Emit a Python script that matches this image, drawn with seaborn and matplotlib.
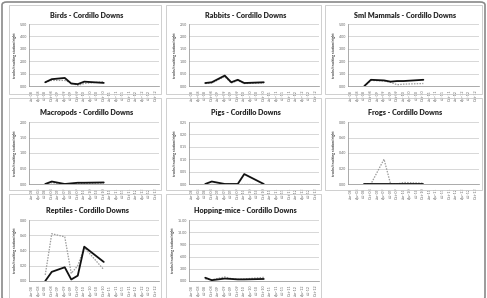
import numpy as np
import pandas as pd
import matplotlib
matplotlib.use("Agg")
import matplotlib.pyplot as plt
import seaborn as sns
from matplotlib.patches import Rectangle, FancyBboxPatch

sns.set_style("white")
plt.rcParams['font.family'] = ['Lato', 'DejaVu Sans']

# quarterly tick labels Jan-08 .. Oct-12
quarters = [f"{m}-{y:02d}" for y in range(8, 13) for m in ["Jan", "Apr", "Jul", "Oct"]]

# survey positions (index into quarters)
survey_idx = [2, 3, 5, 6, 7, 8, 11]

titles = ["Birds", "Rabbits", "Sml Mammals", "Macropods", "Pigs", "Frogs",
          "Reptiles", "Hopping-mice"]

# solid (black) series
birds_a = [0.30, 0.55, 0.65, 0.20, 0.15, 0.35, 0.25]
rabbits_a = [0.12, 0.15, 0.42, 0.15, 0.25, 0.12, 0.15]
smlmam_a = [0.00, 0.50, 0.45, 0.35, 0.40, 0.40, 0.50]
macro_a = [0.00, 0.08, 0.00, 0.02, 0.04, 0.04, 0.05]
pigs_a = [0.00, 0.01, 0.00, 0.00, 0.00, 0.04, 0.00]
frogs_a = [0.00, 0.00, 0.00, 0.00, 0.00, 0.00, 0.00]
rept_a = [0.00, 0.12, 0.18, 0.02, 0.07, 0.45, 0.25]
hop_a = [0.80, 0.20, 0.60, 0.50, 0.40, 0.40, 0.50]

# dotted (grey) series
birds_b = [0.30, 0.45, 0.45, 0.25, 0.05, 0.20, 0.35]
rabbits_b = [0.10, 0.12, 0.38, 0.12, 0.22, 0.10, 0.12]
smlmam_b = [0.00, 0.45, 0.40, 0.30, 0.10, 0.15, 0.20]
macro_b = [0.00, 0.04, 0.00, 0.01, 0.02, 0.02, 0.03]
pigs_b = [0.00, 0.00, 0.00, 0.00, 0.00, 0.00, 0.00]
frogs_b = [0.00, 0.00, 0.32, 0.00, 0.00, 0.02, 0.01]
rept_b = [0.08, 0.62, 0.58, 0.10, 0.20, 0.44, 0.15]
hop_b = [0.50, 0.30, 1.00, 0.60, 0.40, 0.50, 0.90]

solid = [birds_a, rabbits_a, smlmam_a, macro_a, pigs_a, frogs_a, rept_a, hop_a]
dotted = [birds_b, rabbits_b, smlmam_b, macro_b, pigs_b, frogs_b, rept_b, hop_b]
ymax = [5, 2.5, 5, 2, 0.25, 0.8, 0.8, 15]
ystep = [1, 0.5, 1, 0.5, 0.05, 0.2, 0.2, 3]

W, H = 487, 298
fig = plt.figure(figsize=(W / 100, H / 100), dpi=100)

def fx(x):
    return x / W

def fy(y):
    return 1 - y / H

# outer frame
fig.patches.append(FancyBboxPatch((fx(2), fy(300)), fx(483), 300 / H - 2 / H,
                                  boxstyle="round,pad=0,rounding_size=0.01",
                                  transform=fig.transFigure, fill=False,
                                  ec="#8a8a8a", lw=1.2))

box_x = [(9, 161), (166, 321), (325, 482)]
box_y = [(5, 94), (98, 190), (194, 305)]
ax_l = [29, 189, 348]
ax_r = [159, 319, 479]
ax_t = [24, 122, 220]
ax_b = [86, 184, 281]
title_y = [15, 113, 210]

for i, name in enumerate(titles):
    r, c = divmod(i, 3)
    bx0, bx1 = box_x[c]
    by0, by1 = box_y[r]
    fig.patches.append(Rectangle((fx(bx0), fy(by1)), fx(bx1 - bx0), (by1 - by0) / H,
                                 transform=fig.transFigure, fill=False,
                                 ec="#c8c8c8", lw=0.6))
    fig.text(fx((bx0 + bx1) / 2 + 2), fy(title_y[r]), f"{name} - Cordillo Downs",
             ha="center", va="center", fontsize=5.2, fontweight="heavy", color="#2a2a2a")

    ax = fig.add_axes([fx(ax_l[c]), fy(ax_b[r]), fx(ax_r[c] - ax_l[c]),
                       (ax_b[r] - ax_t[r]) / H])
    df = pd.DataFrame({"q": survey_idx, "a": solid[i], "b": dotted[i]})
    sns.lineplot(data=df, x="q", y="b", ax=ax, color="#9a9a9a", lw=0.9,
                 linestyle=(0, (1.2, 1.0)))
    sns.lineplot(data=df, x="q", y="a", ax=ax, color="#111111", lw=1.3)

    ax.set_xlim(-0.5, len(quarters) - 0.5)
    ax.set_ylim(0, ymax[i])
    yt = np.arange(0, ymax[i] + ystep[i] / 2, ystep[i])
    ax.set_yticks(yt)
    ax.set_yticklabels([f"{v:.2f}" for v in yt], fontsize=2.6, color="#444444")
    ax.set_xticks(range(len(quarters)))
    ax.set_xticklabels(quarters, rotation=90, fontsize=2.6, color="#444444")
    ax.tick_params(axis="both", length=1.2, width=0.4, pad=1.5, colors="#666666")
    ax.tick_params(axis="y", length=0)
    ax.grid(axis="y", color="#c8c8c8", lw=0.5)
    for s in ["top", "right"]:
        ax.spines[s].set_visible(False)
    ax.spines["left"].set_color("#888888")
    ax.spines["bottom"].set_color("#888888")
    ax.spines["left"].set_linewidth(0.5)
    ax.spines["bottom"].set_linewidth(0.5)
    ax.set_xlabel("")
    ax.set_ylabel("tracks/tracking station/night", fontsize=2.5, fontweight="bold",
                  color="#333333", labelpad=2)

fig.savefig("out.png", dpi=100)
